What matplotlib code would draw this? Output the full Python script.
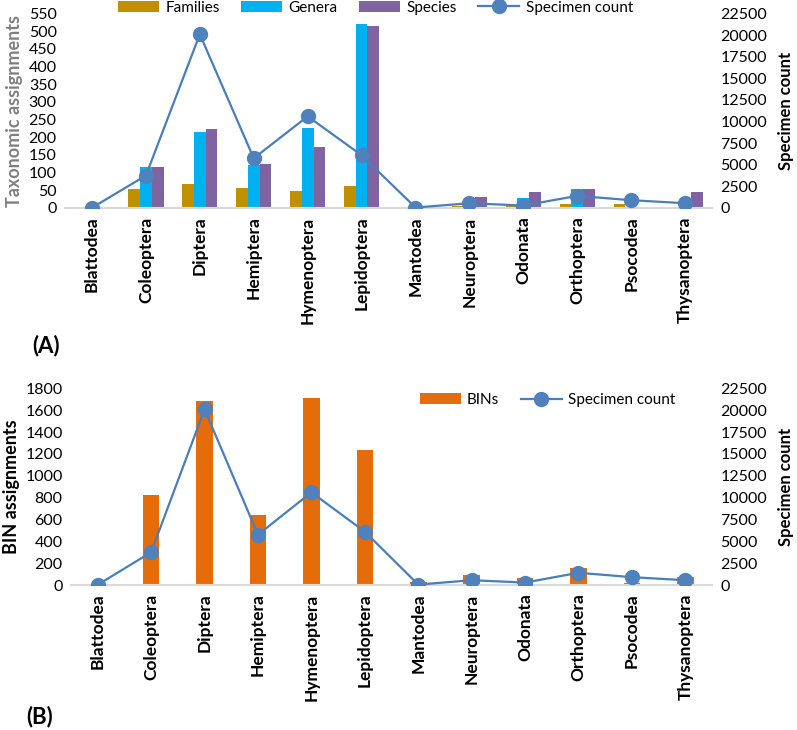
import matplotlib.pyplot as plt
import numpy as np

plt.rcParams['font.family'] = ['Lato', 'DejaVu Sans']

# Data
orders = ['Blattodea', 'Coleoptera', 'Diptera', 'Hemiptera', 'Hymenoptera', 'Lepidoptera',
          'Mantodea', 'Neuroptera', 'Odonata', 'Orthoptera', 'Psocodea', 'Thysanoptera']
families = [0, 54, 67, 57, 49, 62, 0, 5, 5, 10, 10, 0]
genera = [0, 117, 214, 122, 227, 520, 0, 28, 27, 54, 3, 0]
species = [4, 117, 222, 125, 172, 516, 0, 32, 44, 54, 0, 44]
bins = [0, 821, 1683, 640, 1711, 1235, 30, 91, 60, 158, 20, 76]
specimens = [30, 3750, 20100, 5750, 10600, 6100, 50, 550, 280, 1400, 900, 550]

C_FAM = '#C09000'
C_GEN = '#00B0F0'
C_SPE = '#8064A2'
C_BIN = '#E46C0A'
C_LINE = '#4A7EBB'
C_MARK = '#4F81BD'
C_AXIS = '#D9D9D9'

fig = plt.figure(figsize=(7.97, 7.30), dpi=100)
x = np.arange(len(orders))


def style(ax, twin):
    for s in ['top', 'right', 'left']:
        ax.spines[s].set_visible(False)
        twin.spines[s].set_visible(False)
    ax.spines['bottom'].set_color(C_AXIS)
    ax.spines['bottom'].set_linewidth(1.5)
    twin.spines['bottom'].set_visible(False)
    ax.tick_params(length=0, labelsize=11.5, pad=6)
    twin.tick_params(length=0, labelsize=11.5, pad=6)
    ax.set_xticks(x)
    ax.set_xticklabels(orders, rotation=90, fontsize=12.5, fontweight='bold')
    ax.set_xlim(-0.5, len(orders) - 0.5)
    twin.set_ylim(0, 22500)
    twin.set_yticks(np.arange(0, 22501, 2500))
    twin.set_ylabel('Specimen count', fontsize=12, fontweight='bold', labelpad=8)


# ---- (A) taxonomic assignments ----
ax1 = fig.add_axes([0.0816, 0.7151, 0.8118, 0.2664])
t1 = ax1.twinx()
w = 0.218
b1 = ax1.bar(x - w, families, w, color=C_FAM, label='Families')
b2 = ax1.bar(x, genera, w, color=C_GEN, label='Genera')
b3 = ax1.bar(x + w, species, w, color=C_SPE, label='Species')
l1, = t1.plot(x, specimens, color=C_LINE, lw=1.6, marker='o', ms=10,
              mfc=C_MARK, mec=C_MARK, label='Specimen count')
ax1.set_ylim(0, 550)
ax1.set_yticks(np.arange(0, 551, 50))
ax1.set_ylabel('Taxonomic assignments', fontsize=13, fontweight='bold', color='#7F7F7F', labelpad=4)
style(ax1, t1)
ax1.legend([b1, b2, b3, l1], ['Families', 'Genera', 'Species', 'Specimen count'],
           ncol=4, frameon=False, fontsize=11, loc='center left',
           bbox_to_anchor=(0.082, 1.03), handlelength=2.7, handleheight=0.7,
           columnspacing=1.4, handletextpad=0.4, borderaxespad=0, borderpad=0)
fig.text(0.04, 0.527, '(A)', fontsize=16, fontweight='bold', ha='left', va='center')

# ---- (B) BIN assignments ----
ax2 = fig.add_axes([0.0891, 0.1986, 0.8043, 0.2695])
t2 = ax2.twinx()
bb = ax2.bar(x, bins, 0.31, color=C_BIN, label='BINs')
l2, = t2.plot(x, specimens, color=C_LINE, lw=1.6, marker='o', ms=10,
              mfc=C_MARK, mec=C_MARK, label='Specimen count')
ax2.set_ylim(0, 1800)
ax2.set_yticks(np.arange(0, 1801, 200))
ax2.set_ylabel('BIN assignments', fontsize=13, fontweight='bold', labelpad=4)
style(ax2, t2)
ax2.legend([bb, l2], ['BINs', 'Specimen count'], ncol=2, frameon=False, fontsize=11,
           loc='center left', bbox_to_anchor=(0.544, 0.94), handlelength=2.7,
           handleheight=0.7, columnspacing=1.4, handletextpad=0.4, borderaxespad=0,
           borderpad=0)
fig.text(0.033, 0.018, '(B)', fontsize=16, fontweight='bold', ha='left', va='center')

fig.savefig('out.png', dpi=100)
